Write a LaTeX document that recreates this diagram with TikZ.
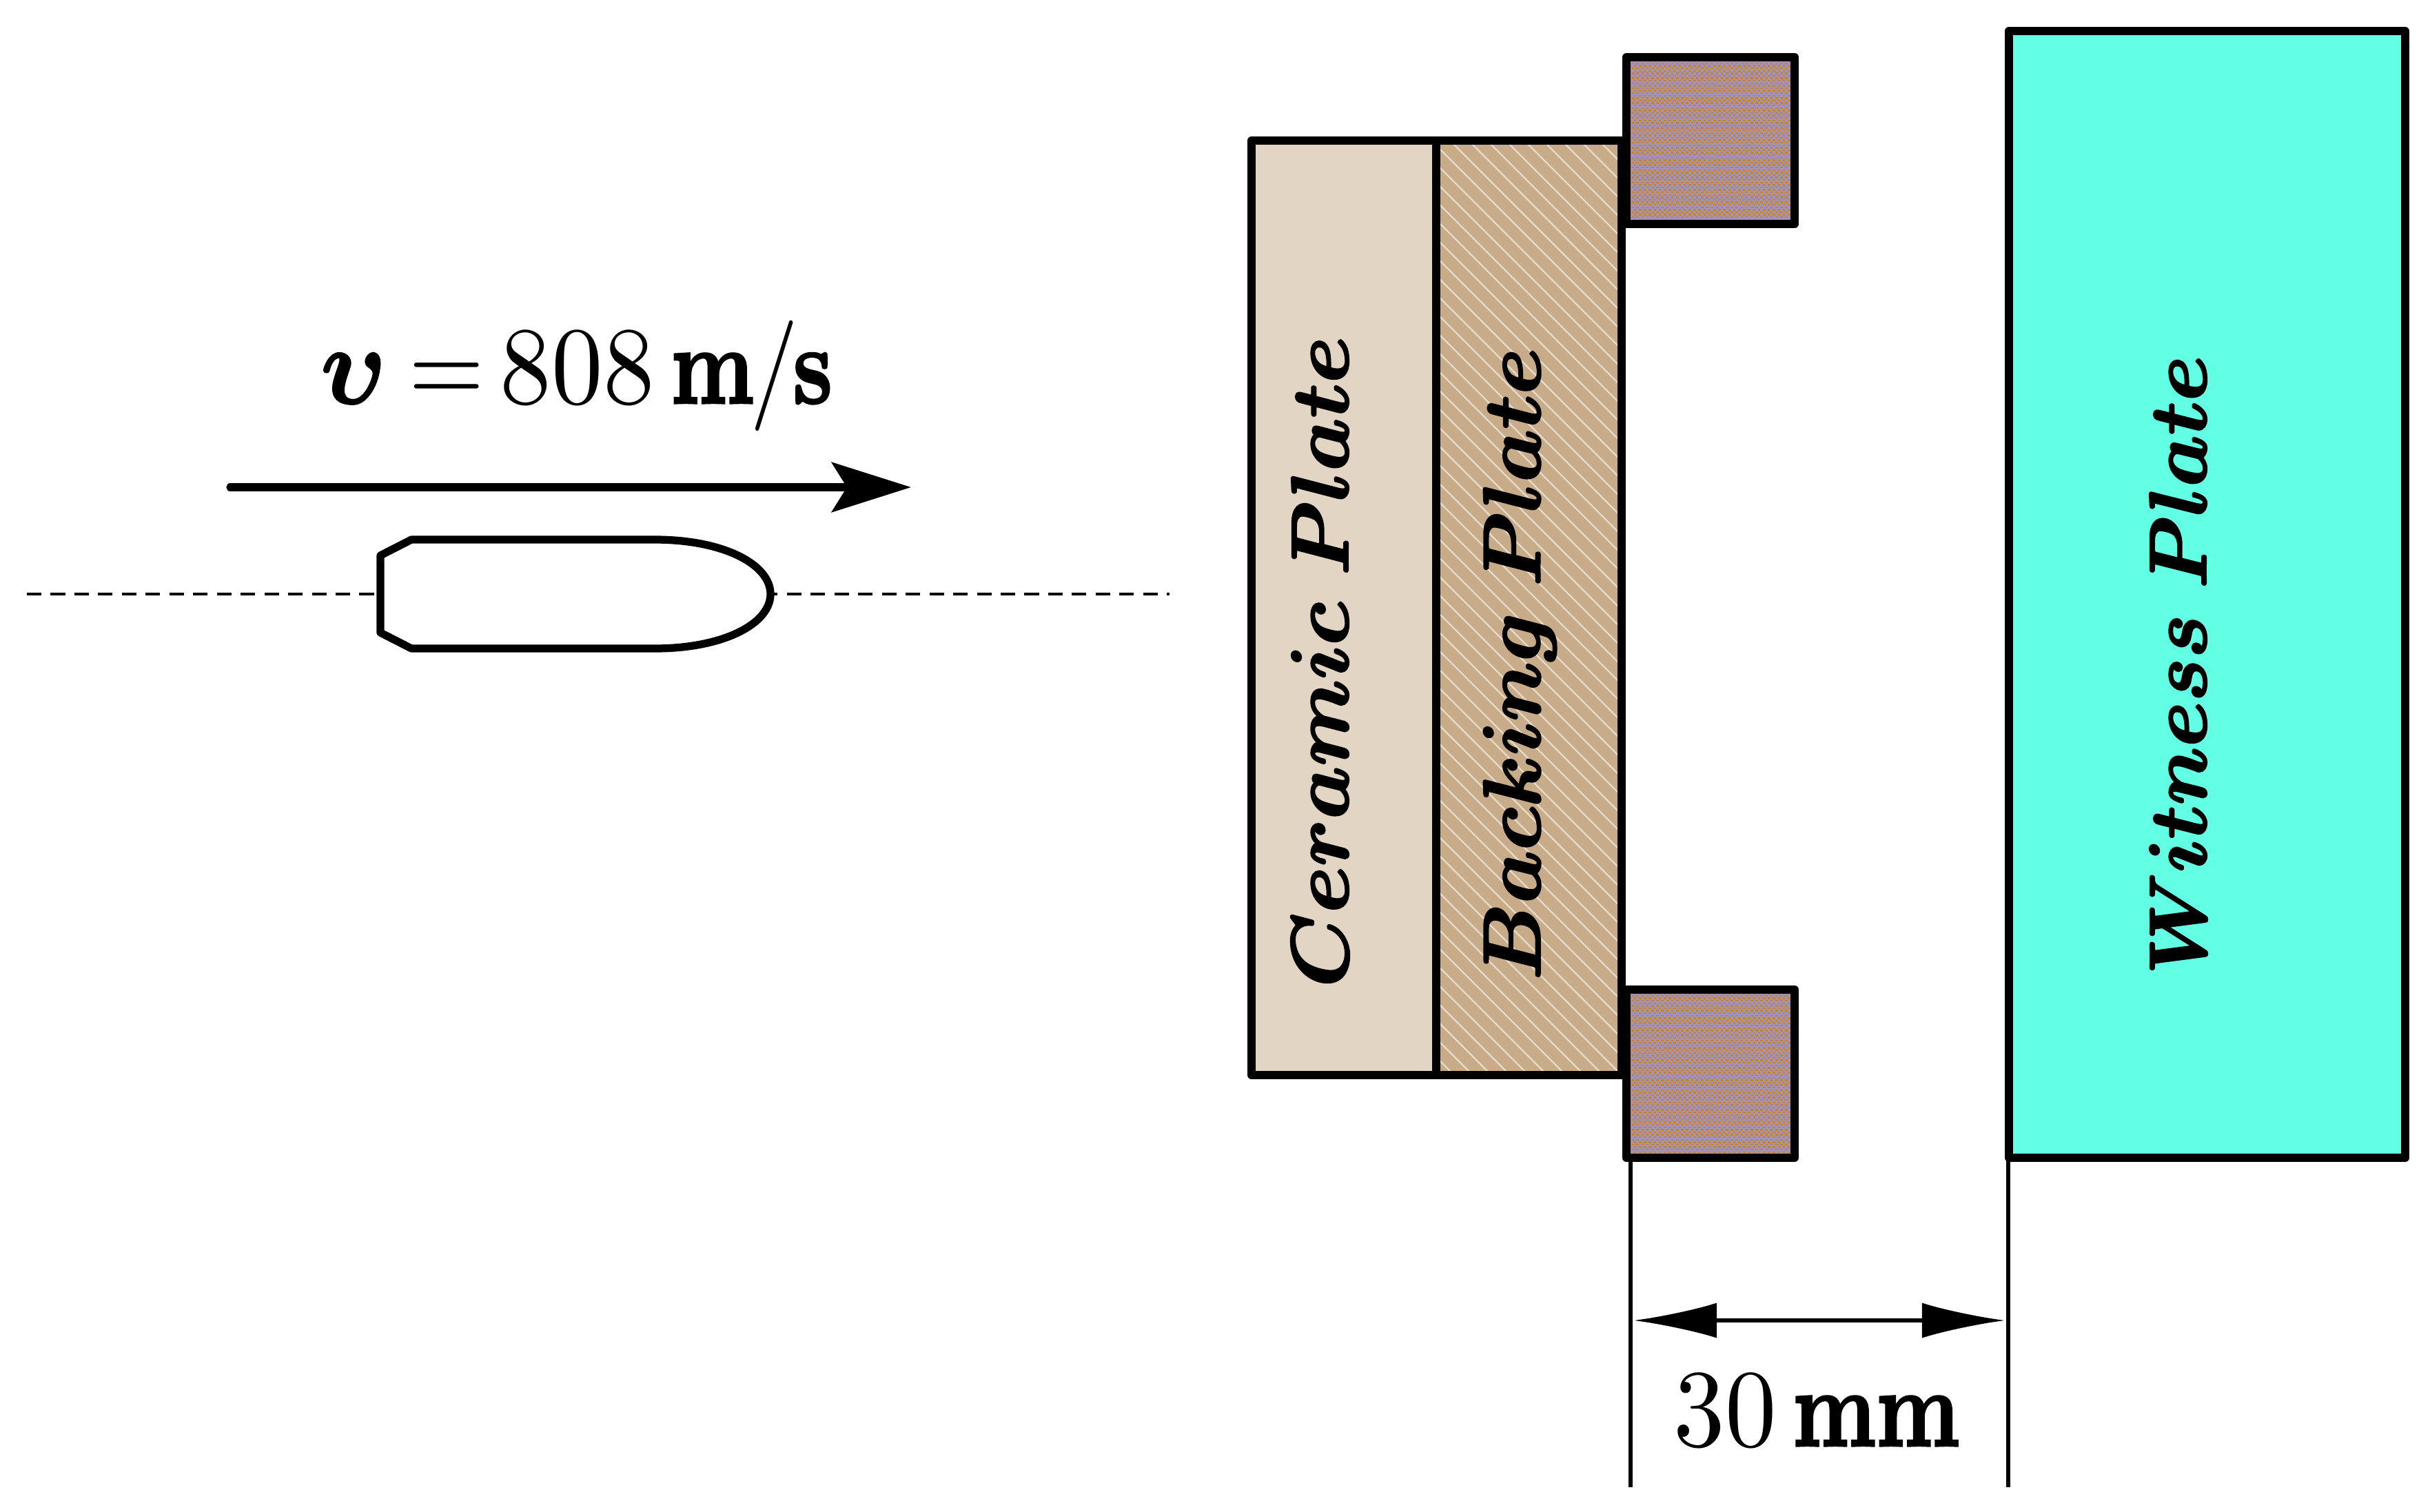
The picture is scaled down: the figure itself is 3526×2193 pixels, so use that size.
\documentclass[tikz,border=0pt]{standalone}
\usepackage{amsmath}
\usepackage{graphicx}
\usetikzlibrary{arrows.meta}
\definecolor{ceramic}{HTML}{E3D5C4}
\definecolor{backing}{HTML}{C8AC8A}
\definecolor{hatchline}{HTML}{E6DAC8}
\definecolor{witness}{HTML}{62FFE4}
\definecolor{mauve}{HTML}{A292BC}
\definecolor{ochre}{HTML}{C8841E}
\newcommand{\heavy}[2]{\special{pdf:code q 2 Tr #1 w}#2\special{pdf:code Q}}
\newcommand{\bigtxt}[1]{\scalebox{4}[4.56]{\fontsize{10}{12}\selectfont #1}}
\newcommand{\platetxt}[2]{\scalebox{#1}[3.35]{\fontsize{10}{12}\selectfont\boldmath\heavy{0.22}{#2}}}
\newcommand{\bm}[1]{\scalebox{0.9}[1]{\heavy{0.2}{\textbf{#1}}}}
\newcommand{\dg}[1]{\scalebox{1.06}[1]{#1}}
\tikzset{
  plate/.style={draw=black,line width=3.4pt,line join=round},
  thinline/.style={draw=black,line width=1.5pt},
  labeltext/.style={inner sep=0pt},
  platetext/.style={inner sep=0pt,rotate=90},
  bigtip/.style={-{Stealth[length=1.15cm,width=0.72cm,inset=0.22cm]}},
  dimtip/.style={{Latex[length=1.2cm,width=0.51cm]}-{Latex[length=1.2cm,width=0.51cm]}}
}
\newcommand{\checkfill}[4]{%
  \begin{scope}
    \clip (#1,#2) rectangle (#3,#4);
    \fill[mauve] (#1,#2) rectangle (#3,#4);
    \pgfmathsetmacro{\rows}{int((#4-#2)/3.6)}
    \foreach \r in {0,...,\rows}{
      \pgfmathsetmacro{\yy}{#2+\r*3.6+1.8}
      \pgfmathsetmacro{\ph}{mod(\r,2)*1.024}
      \draw[ochre,line width=0.65pt,dash pattern=on 1.024pt off 1.024pt,dash phase=\ph pt] (#1,\yy) -- (#3,\yy);
    }
  \end{scope}
}
\begin{document}
\begin{tikzpicture}[x=0.01cm,y=-0.01cm]
\useasboundingbox (0,0) rectangle (3526,2193);
% axis
\coordinate (axL) at (39,862);
\coordinate (axR) at (1697,862);
\draw[line width=1.3pt,dash pattern=on 6pt off 3.8pt] (axL) -- (axR);
% projectile
\draw[fill=white,line width=3.2pt,line join=round]
  (552,806) -- (552,918) -- (597,941) -- (950,941)
  .. controls (1050,941) and (1118,905) .. (1118,862)
  .. controls (1118,819) and (1050,783) .. (950,783)
  -- (597,783) -- cycle;
% velocity arrow
\coordinate (vS) at (334,707);
\coordinate (vE) at (1322,707);
\draw[bigtip,line width=3.2pt,line cap=round] (vS) -- (vE);
\node[labeltext,anchor=base] (vel) at (837,585) {\bigtxt{{\boldmath\heavy{0.2}{$\upsilon$}}\kern0.7pt\,$=$\,\dg{808}\,\bm{m}\kern-0.4pt/\kern-0.6pt\bm{s}}};
% ceramic
\fill[ceramic] (1816,204) rectangle (2084,1560);
% backing
\fill[backing] (2084,204) rectangle (2353,1560);
\begin{scope}
  \clip (2084,204) rectangle (2353,1560);
  \foreach \k in {0,...,70}{
    \draw[hatchline,line width=0.65pt] (700+\k*27,204) -- ++(1400,1400);
  }
\end{scope}
\draw[plate] (1816,204) rectangle (2353,1560);
\draw[plate] (2084,204) -- (2084,1560);
% blocks
\checkfill{2360}{83}{2604}{325}
\checkfill{2360}{1436}{2604}{1680}
\draw[plate] (2360,83) rectangle (2604,325);
\draw[plate] (2360,1436) rectangle (2604,1680);
% witness
\draw[plate,fill=witness] (2915,45) rectangle (3490,1680);
% texts
\node[platetext] (cer) at (1915,960) {\platetxt{3.47}{$Ceramic\;Plate$}};
\node[platetext] (bak) at (2205,963) {\platetxt{3.46}{$Backing\;Plate$}};
\node[platetext] (wit) at (3160,965) {\platetxt{3.38}{$Witness\;Plate$}};
% dimension
\coordinate (d1a) at (2366,1680);
\coordinate (d1b) at (2366,2158);
\coordinate (d2a) at (2914,1680);
\coordinate (d2b) at (2914,2158);
\draw[thinline] (d1a) -- (d1b);
\draw[thinline] (d2a) -- (d2b);
\coordinate (dL) at (2371,1916);
\coordinate (dR) at (2909,1916);
\draw[thinline,dimtip] (dL) -- (dR);
\node[labeltext,anchor=base] (dimlabel) at (2636,2098) {\bigtxt{\dg{30}\,\bm{mm}}};
\end{tikzpicture}
\end{document}
